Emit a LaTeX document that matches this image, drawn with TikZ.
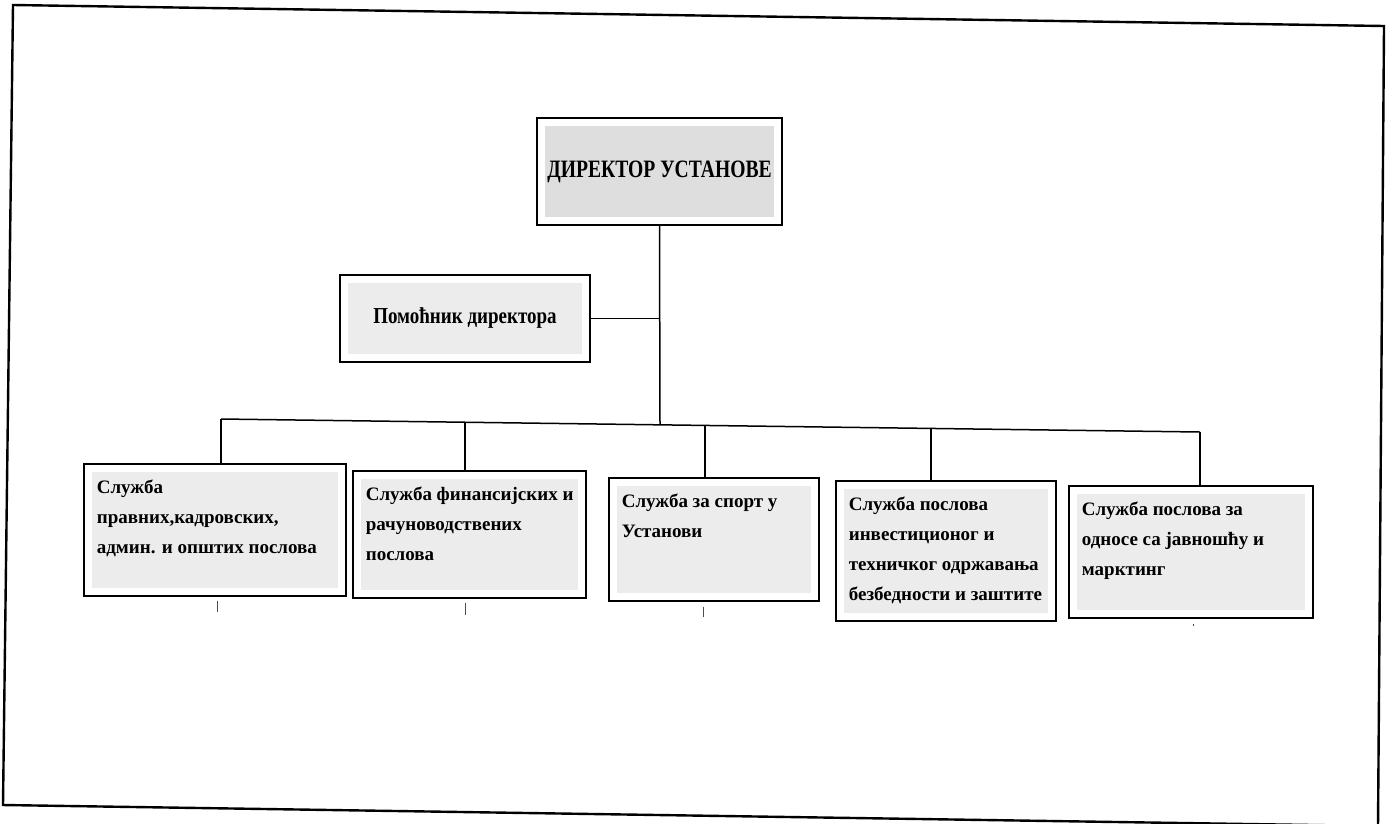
\documentclass[tikz,border=0pt]{standalone}
\usepackage{fontspec}
\setmainfont{Liberation Serif}
\usetikzlibrary{calc}
\definecolor{dirgray}{HTML}{DEDEDE}
\definecolor{boxgray}{HTML}{ECECEC}
\tikzset{
  frame/.style={line width=2.4pt, black},
  unit/.style={draw=black, line width=1.7pt, fill=white, inner sep=0pt,
    path picture={\fill[#1] ([shift={(8pt,-8pt)}]path picture bounding box.north west)
      rectangle ([shift={(-8pt,8pt)}]path picture bounding box.south east);}},
  unit/.default=boxgray,
  conn/.style={line width=1.5pt, black},
  tick/.style={line width=1pt, black!70},
  lbl/.style={font=\bfseries\fontsize{19}{30}\selectfont}
}
\newcommand{\boxtext}[3]{\parbox[c][#2pt][t]{#1pt}{\raggedright\rule{0pt}{30pt}#3}}
\begin{document}
\begin{tikzpicture}[x=1pt,y=-1pt]
\useasboundingbox (0,0) rectangle (1386,823);
\draw[frame] (13,5) -- (1384,26) -- (1378,826) -- (3,805) -- cycle;

\node[unit=dirgray, minimum width=245pt, minimum height=107pt,
  font=\bfseries\fontsize{20}{24}\selectfont] (dir) at (659.5,171.5) {\scalebox{0.98}[1.25]{ДИРЕКТОР УСТАНОВЕ}};
\node[unit, minimum width=250pt, minimum height=87pt,
  font=\bfseries\fontsize{19}{24}\selectfont] (asst) at (465,318.5) {\scalebox{1}[1.2]{Помоћник директора}};

\node[unit, lbl, anchor=north west] (b1) at (83,463)
  {\hspace*{13pt}\boxtext{240}{132}{Служба\\правних,кадровских,\\админ. и општих послова}\hspace*{9pt}};
\node[unit, lbl, anchor=north west] (b2) at (352,470)
  {\hspace*{13pt}\boxtext{212}{127}{Служба финансијских и\\рачуноводствених\\послова}\hspace*{8pt}};
\node[unit, lbl, anchor=north west] (b3) at (608,477)
  {\hspace*{13pt}\boxtext{189}{123}{Служба за спорт у\\Установи}\hspace*{8pt}};
\node[unit, lbl, anchor=north west] (b4) at (835,480)
  {\hspace*{13pt}\boxtext{200}{140}{Служба послова\\инвестиционог и\\техничког одржавања\\безбедности и заштите}\hspace*{7pt}};
\node[unit, lbl, anchor=north west] (b5) at (1068,485)
  {\hspace*{13pt}\boxtext{223}{132}{Служба послова за\\односе са јавношћу и\\марктинг}\hspace*{8pt}};

% bar tap points
\coordinate (t1) at (221,419);
\coordinate (t2) at (465,422.2);
\coordinate (jn) at (660,424.8);
\coordinate (t3) at (705,425.4);
\coordinate (t4) at (931,428.4);
\coordinate (t5) at (1200,432);

\draw[conn] (dir.south) -- (jn);
\draw[conn] (asst.east) -- (asst.east -| dir.south);
\draw[conn] (t1) -- (t5);
\draw[conn] (t1) -- (t1 |- b1.north);
\draw[conn] (t2) -- (t2 |- b2.north);
\draw[conn] (t3) -- (t3 |- b3.north);
\draw[conn] (t4) -- (t4 |- b4.north);
\draw[conn] (t5) -- (t5 |- b5.north);

% short ticks under boxes
\coordinate (e1) at (217,612);
\coordinate (e2) at (465,615);
\coordinate (e3) at (703,617);
\coordinate (e5) at (1193,626);
\draw[tick] ($(e1 |- b1.south)+(0,4)$) -- (e1);
\draw[tick] ($(e2 |- b2.south)+(0,4)$) -- (e2);
\draw[tick] ($(e3 |- b3.south)+(0,5)$) -- (e3);
\draw[tick] ($(e5 |- b5.south)+(0,5)$) -- (e5);
\end{tikzpicture}
\end{document}
